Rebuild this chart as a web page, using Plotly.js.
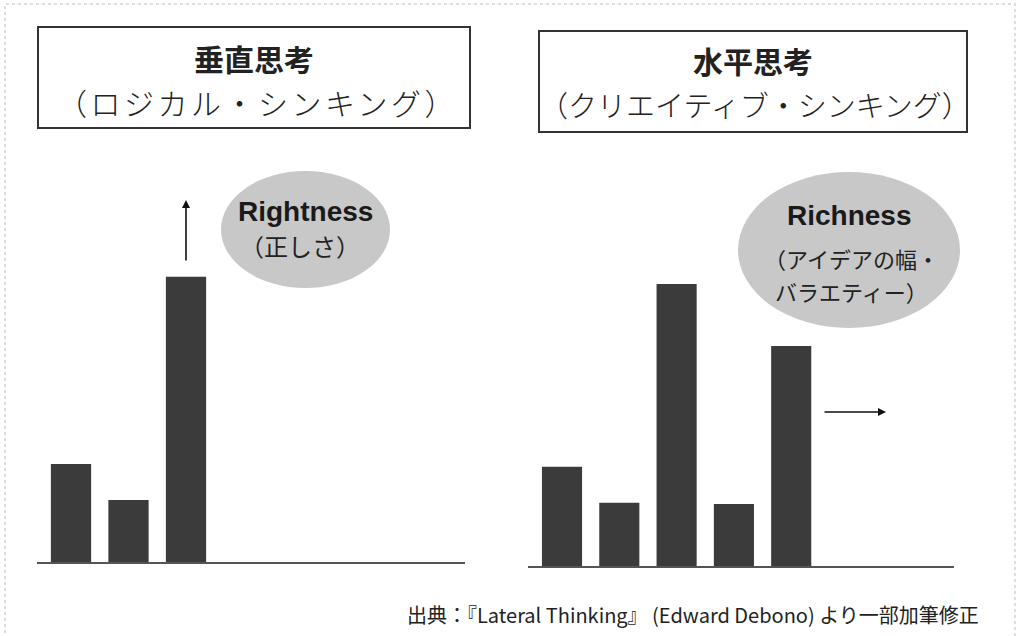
<!DOCTYPE html>
<html>
<head>
<meta charset="utf-8">
<script src="https://cdn.plot.ly/plotly-3.0.1.min.js"></script>
<style>html,body{margin:0;padding:0;background:#fff;}#chart{width:1018px;height:636px;}</style>
</head>
<body>
<div id="chart"></div>
<script>
// ---- data ----
const verticalIdeas = [1, 2, 3];
const verticalValues = [3.43, 2.17, 9.98];
const lateralIdeas = [1, 2, 3, 4, 5];
const lateralValues = [3.47, 2.21, 9.87, 2.17, 7.70];

const leftTitle = ["垂直思考", "（ロジカル・シンキング）"];
const rightTitle = ["水平思考", "（クリエイティブ・シンキング）"];
const leftBubble = ["Rightness", "（正しさ）"];
const rightBubble = ["Richness", "（アイデアの幅・", "バラエティー）"];
const sourceNote = "出典：『Lateral Thinking』 (Edward Debono) より一部加筆修正";

// ---- helpers (pixel -> paper) ----
const W = 1018, H = 636;
const px = v => v / W;
const py = v => 1 - v / H;

const JP = '"Noto Sans CJK JP", "Noto Sans", sans-serif';
const LAT = '"Liberation Sans", Arial, sans-serif';
const barColor = '#3b3b3b';

const traces = [
  {type: 'bar', x: verticalIdeas, y: verticalValues, xaxis: 'x', yaxis: 'y',
   width: 0.7, marker: {color: barColor, line: {width: 0}}, hoverinfo: 'skip'},
  {type: 'bar', x: lateralIdeas, y: lateralValues, xaxis: 'x2', yaxis: 'y2',
   width: 0.7, marker: {color: barColor, line: {width: 0}}, hoverinfo: 'skip'}
];

const axisCommon = {showgrid: false, zeroline: false, showticklabels: false, ticks: '', fixedrange: true};

const annotations = [
  // titles
  {text: '<b>' + leftTitle[0] + '</b>', x: px(254), y: py(58), font: {family: JP, size: 30, color: '#222'}},
  {text: '<span style="letter-spacing:3.5px">' + leftTitle[1] + '</span>', x: px(257), y: py(102),
   font: {family: JP, size: 30, weight: 300, color: '#222'}},
  {text: '<b>' + rightTitle[0] + '</b>', x: px(753), y: py(60), font: {family: JP, size: 30, color: '#222'}},
  {text: rightTitle[1], x: px(755), y: py(104), font: {family: JP, size: 29, weight: 300, color: '#222'}},
  // bubbles
  {text: '<b>' + leftBubble[0] + '</b>', x: px(305), y: py(211), font: {family: LAT, size: 28, color: '#1a1a1a'}},
  {text: leftBubble[1], x: px(300), y: py(245), font: {family: JP, size: 24, color: '#222'}},
  {text: '<b>' + rightBubble[0] + '</b>', x: px(849), y: py(216), font: {family: LAT, size: 28, color: '#1a1a1a'}},
  {text: rightBubble[1], x: px(851), y: py(258), font: {family: JP, size: 22, color: '#222'}},
  {text: rightBubble[2], x: px(851), y: py(291), font: {family: JP, size: 22, color: '#222'}},
  // source
  {text: sourceNote, x: px(981), y: py(614), xanchor: 'right', font: {family: JP, size: 20, color: '#222'}},
  // arrows
  {text: '', x: px(186), y: py(200), showarrow: true, axref: 'pixel', ayref: 'pixel', ax: 0, ay: 62,
   arrowhead: 2, arrowsize: 1, arrowwidth: 1.6, arrowcolor: '#111'},
  {text: '', x: px(886), y: py(412), showarrow: true, axref: 'pixel', ayref: 'pixel', ax: -63, ay: 0,
   arrowhead: 2, arrowsize: 1, arrowwidth: 1.6, arrowcolor: '#111'}
].map(a => Object.assign({xref: 'paper', yref: 'paper', showarrow: false, xanchor: 'center', yanchor: 'middle'}, a));

const shapes = [
  // outer faint frame
  {type: 'rect', xref: 'paper', yref: 'paper', x0: px(5), x1: px(1015), y0: py(640), y1: py(4),
   line: {color: '#d2d2d2', width: 1.5, dash: 'dot'}, layer: 'below'},
  // title boxes
  {type: 'rect', xref: 'paper', yref: 'paper', x0: px(38), x1: px(470), y0: py(128), y1: py(27),
   line: {color: '#333', width: 2}, fillcolor: 'rgba(0,0,0,0)'},
  {type: 'rect', xref: 'paper', yref: 'paper', x0: px(539), x1: px(967), y0: py(132), y1: py(31),
   line: {color: '#333', width: 2}, fillcolor: 'rgba(0,0,0,0)'},
  // bubbles
  {type: 'circle', xref: 'paper', yref: 'paper', x0: px(221), x1: px(390), y0: py(288), y1: py(171),
   line: {width: 0}, fillcolor: '#c8c8c8', layer: 'below'},
  {type: 'circle', xref: 'paper', yref: 'paper', x0: px(738), x1: px(960), y0: py(328), y1: py(172),
   line: {width: 0}, fillcolor: '#c8c8c8', layer: 'below'}
];

const layout = {
  width: W, height: H,
  margin: {l: 0, r: 0, t: 0, b: 0},
  paper_bgcolor: '#fff', plot_bgcolor: 'rgba(0,0,0,0)',
  showlegend: false,
  xaxis: Object.assign({}, axisCommon, {domain: [px(37), px(465)], range: [0.4087, 7.852],
    showline: true, linecolor: '#555', linewidth: 1.5, anchor: 'y'}),
  yaxis: Object.assign({}, axisCommon, {domain: [py(562), py(262)], range: [0, 10.5], showline: false, anchor: 'x'}),
  xaxis2: Object.assign({}, axisCommon, {domain: [px(528), px(954)], range: [0.4066, 7.841],
    showline: true, linecolor: '#555', linewidth: 1.5, anchor: 'y2'}),
  yaxis2: Object.assign({}, axisCommon, {domain: [py(566), py(266)], range: [0, 10.5], showline: false, anchor: 'x2'}),
  annotations: annotations,
  shapes: shapes
};

Plotly.newPlot('chart', traces, layout, {displayModeBar: false, staticPlot: true});
</script>
</body>
</html>
